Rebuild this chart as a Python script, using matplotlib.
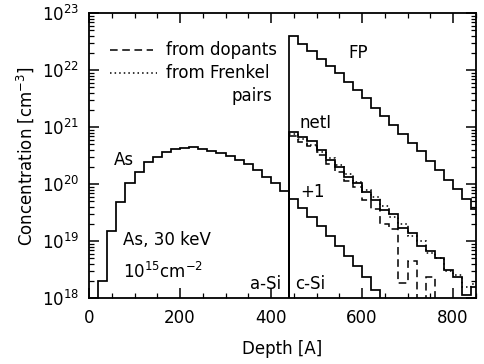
import numpy as np
import matplotlib
matplotlib.use("Agg")
import matplotlib.pyplot as plt
from matplotlib.ticker import LogLocator, MultipleLocator, NullFormatter

# bin edges (Angstrom), 20 A bins
as_edges = np.arange(0, 460, 20)          # 0 .. 440
csi_edges = np.arange(440, 880, 20)       # 440 .. 860

# As profile in a-Si (cm^-3), first bin is below the axis
as_conc = [1e17, 2.0e18, 1.5e19, 4.9e19, 1.05e20, 1.65e20, 2.46e20, 3.0e20,
           3.7e20, 4.2e20, 4.3e20, 4.45e20, 4.2e20, 3.9e20, 3.5e20, 3.1e20,
           2.7e20, 2.24e20, 1.78e20, 1.36e20, 1.07e20, 7.7e19]

# Frenkel pairs
fp_conc = [4.0e22, 2.95e22, 2.2e22, 1.6e22, 1.17e22, 8.8e21, 6.2e21, 4.5e21,
           3.2e21, 2.2e21, 1.55e21, 1.08e21, 7.5e20, 5.4e20, 3.8e20, 2.6e20,
           1.8e20, 1.2e20, 8.4e19, 5.5e19, 3.7e19]

# net interstitials
neti_conc = [8.4e20, 6.8e20, 5.75e20, 4.0e20, 2.67e20, 2.0e20, 1.34e20, 1.05e20,
             7.3e19, 5.3e19, 3.5e19, 3.0e19, 1.7e19, 1.38e19, 8.4e18, 6.8e18,
             5.0e18, 3.1e18, 2.4e18, 1.14e18, 1.6e18]

# net I from dopants (dashed)
dop_conc = [7.0e20, 5.5e20, 4.7e20, 3.3e20, 2.27e20, 1.64e20, 1.14e20, 9.0e19,
            5.3e19, 3.7e19, 2.0e19, 1.65e19, 1.85e18, 4.5e18, 1e17, 2.4e18,
            1e17, 1e17, 1e17, 1e17, 1e17]

# net I from Frenkel pairs (dotted)
frk_conc = [7.6e20, 6.2e20, 4.9e20, 3.7e20, 2.9e20, 2.18e20, 1.52e20, 1.1e20,
            7.9e19, 6.0e19, 4.2e19, 2.67e19, 2.0e19, 1.24e19, 1.0e19, 6.2e18,
            5.1e18, 3.0e18, 2.57e18, 1.58e18, 1.78e18]

# +1 model
plus1_conc = [5.5e19, 3.8e19, 2.7e19, 1.82e19, 1.24e19, 8.3e18, 5.5e18, 3.7e18,
              2.4e18, 1.4e18, 1e17, 1e17, 1e17, 1e17, 1e17, 1e17, 1e17, 1e17,
              1e17, 1e17, 1e17]

base = 1e17

fig = plt.figure(figsize=(4.85, 3.64), dpi=100)
ax = fig.add_axes([0.1835, 0.1805, 0.7975, 0.783])
ax.set_yscale("log")

lw = 1.25
ax.stairs(as_conc, as_edges, baseline=base, color="black", lw=lw)
ax.stairs(fp_conc, csi_edges, baseline=base, color="black", lw=lw)
ax.stairs(neti_conc, csi_edges, baseline=base, color="black", lw=lw)
ax.stairs(plus1_conc, csi_edges, baseline=base, color="black", lw=lw)
ax.stairs(dop_conc, csi_edges, baseline=None, color="black", lw=1.1,
          linestyle=(0, (5, 3)))
ax.stairs(frk_conc, csi_edges, baseline=None, color="black", lw=1.1,
          linestyle=(0, (1, 2)))

ax.set_xlim(0, 850)
ax.set_ylim(1e18, 1e23)

ax.xaxis.set_major_locator(MultipleLocator(200))
ax.xaxis.set_minor_locator(MultipleLocator(50))
ax.yaxis.set_major_locator(LogLocator(base=10, numticks=10))
ax.yaxis.set_minor_locator(LogLocator(base=10, subs=np.arange(2, 10), numticks=10))
ax.yaxis.set_minor_formatter(NullFormatter())
ax.tick_params(which="both", direction="in", top=True, right=True, labelsize=12)
ax.tick_params(which="major", length=7, width=1.1)
ax.tick_params(which="minor", length=3.5, width=0.9)
ax.tick_params(axis="y", pad=7)
ax.tick_params(axis="x", pad=8)
for s in ax.spines.values():
    s.set_linewidth(1.3)

ax.set_xlabel("Depth [A]", fontsize=12, labelpad=9)
ax.set_ylabel("Concentration [cm$^{-3}$]", fontsize=12, labelpad=4)

fs = 12
ax.text(55, 10**20.43, "As", fontsize=fs, va="center", ha="left")
ax.text(74, 10**19.02, "As, 30 keV", fontsize=fs, va="center", ha="left")
ax.text(74, 10**18.46, "10$^{15}$cm$^{-2}$", fontsize=fs, va="center", ha="left")
ax.text(422, 10**18.25, "a-Si", fontsize=fs, va="center", ha="right")
ax.text(453, 10**18.25, "c-Si", fontsize=fs, va="center", ha="left")
ax.text(465, 10**19.87, "+1", fontsize=fs, va="center", ha="left")
ax.text(463, 10**21.08, "netI", fontsize=fs, va="center", ha="left")
ax.text(569, 10**22.30, "FP", fontsize=fs, va="center", ha="left")

# legend drawn by hand in axes fraction
ax.plot([0.054, 0.165], [0.87, 0.87], transform=ax.transAxes, color="black",
        lw=1.1, linestyle=(0, (5, 3)))
ax.plot([0.054, 0.175], [0.79, 0.79], transform=ax.transAxes, color="black",
        lw=1.1, linestyle=(0, (1, 2)))
ax.text(0.2, 0.87, "from dopants", transform=ax.transAxes, fontsize=fs,
        va="center", ha="left")
ax.text(0.2, 0.79, "from Frenkel", transform=ax.transAxes, fontsize=fs,
        va="center", ha="left")
ax.text(0.475, 0.71, "pairs", transform=ax.transAxes, fontsize=fs,
        va="center", ha="right")

fig.savefig("out.png", dpi=100)
